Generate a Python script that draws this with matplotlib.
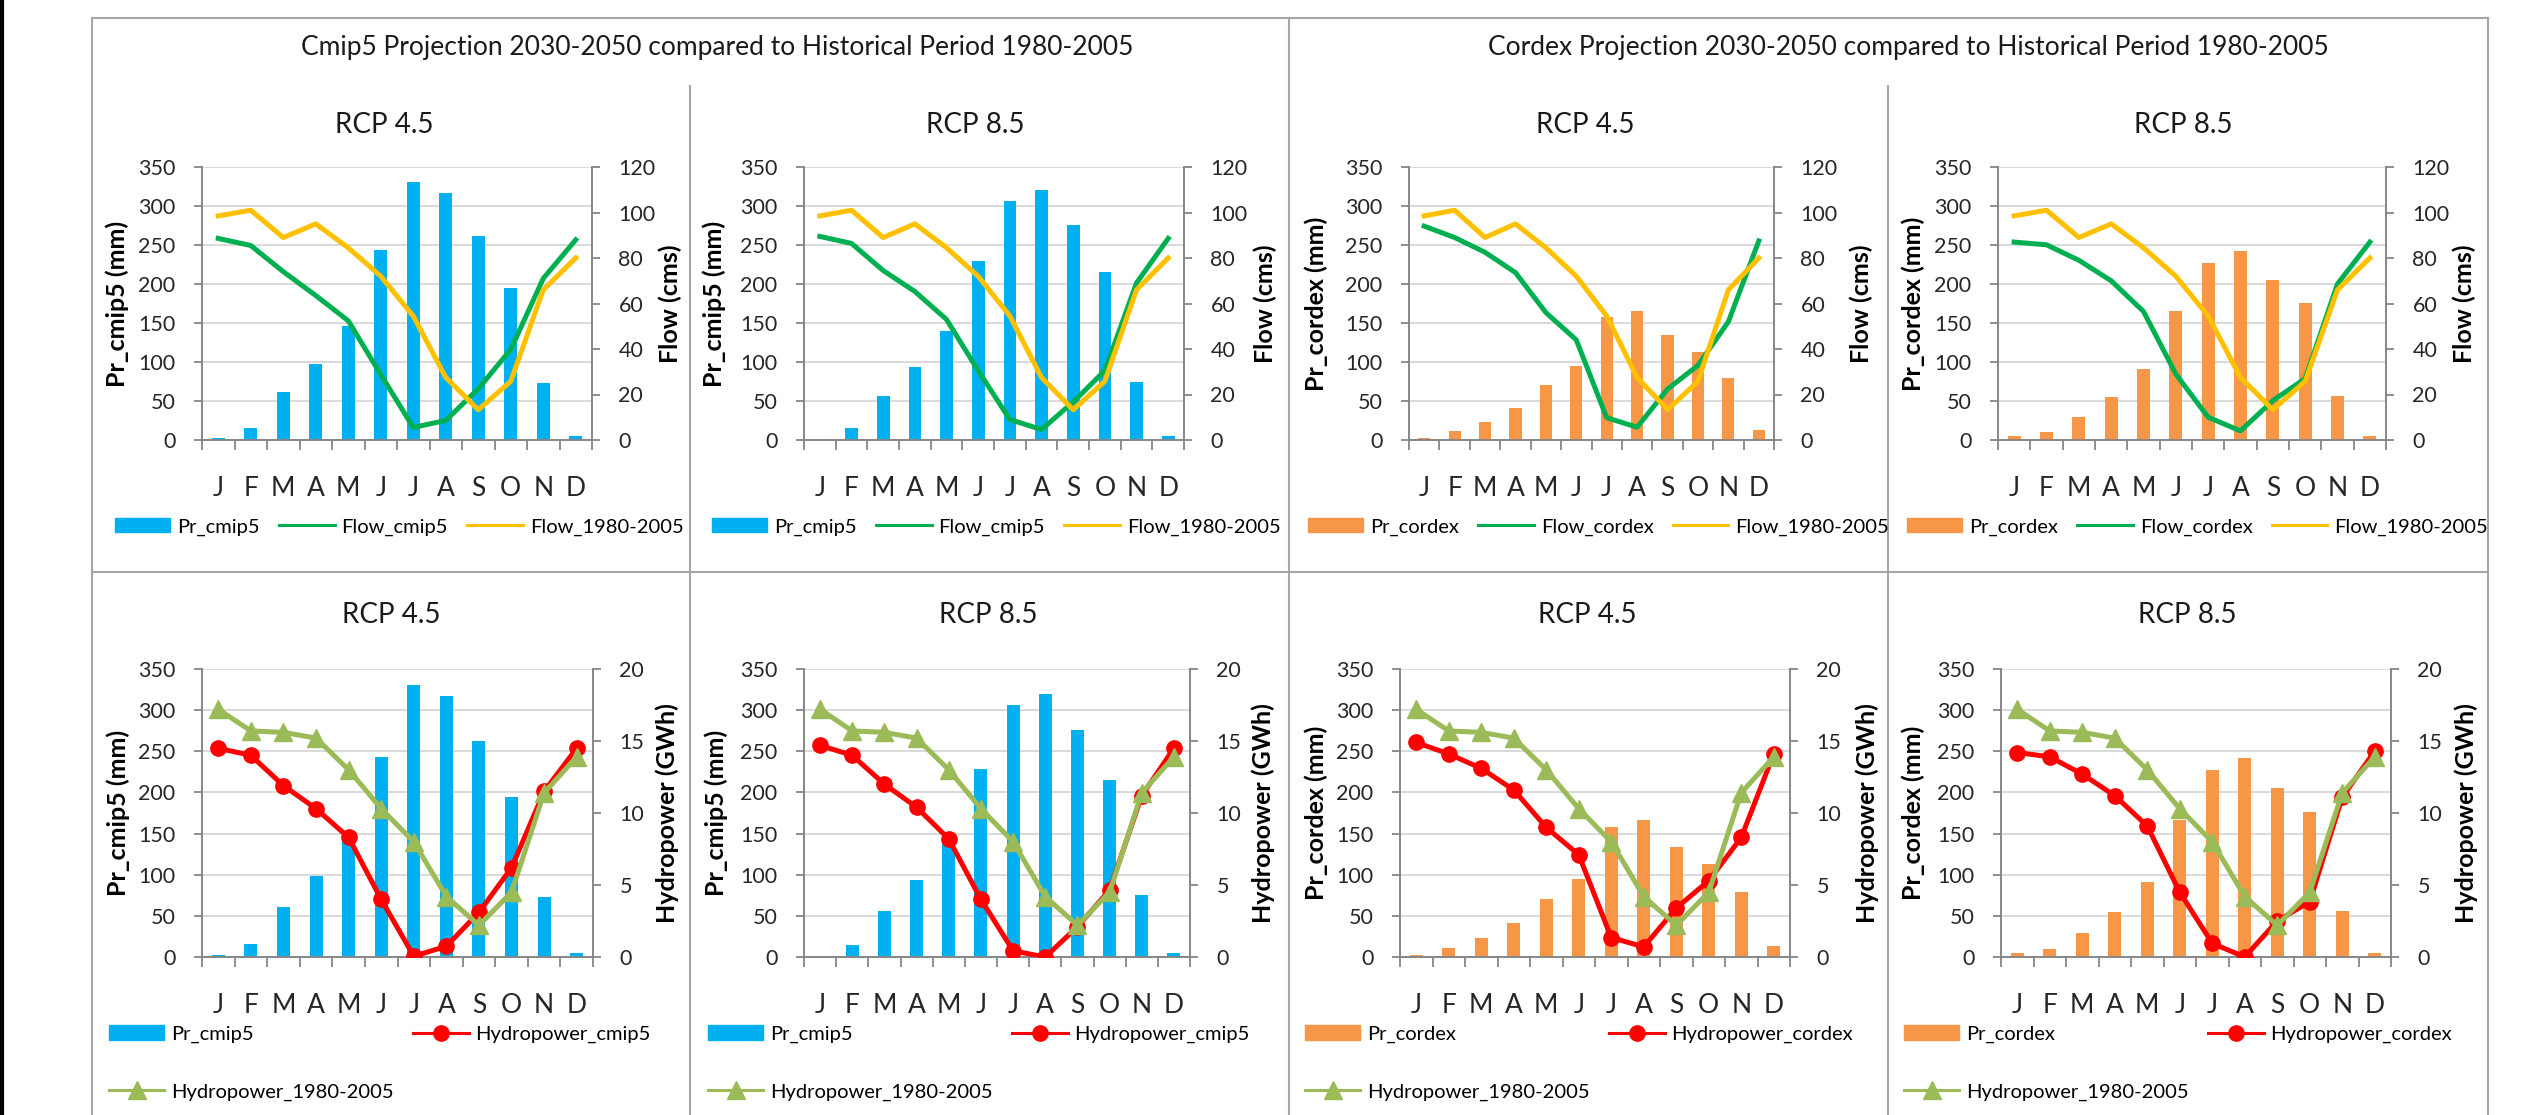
import numpy as np
import matplotlib
matplotlib.use("Agg")
import matplotlib.pyplot as plt
from matplotlib.lines import Line2D
from matplotlib.patches import Rectangle

plt.rcParams['font.family'] = ['Lato', 'DejaVu Sans']

W, H = 2536, 1115

months = ['J', 'F', 'M', 'A', 'M', 'J', 'J', 'A', 'S', 'O', 'N', 'D']

# precipitation (mm)
pr_cmip5_45 = [3, 16, 61, 98, 146, 243, 331, 317, 262, 195, 73, 5]
pr_cmip5_85 = [0, 15, 56, 93, 140, 229, 306, 320, 276, 215, 75, 5]
pr_cordex_45 = [3, 11, 23, 41, 71, 95, 158, 166, 134, 113, 79, 13]
pr_cordex_85 = [5, 10, 29, 55, 91, 166, 227, 242, 205, 176, 56, 5]

# flow (cms)
flow_hist = [98.5, 101, 89, 95, 84.5, 72, 54.5, 27.5, 13.3, 25.8, 66, 80]
flow_cmip5_45 = [88.6, 85.5, 74, 63.5, 52.4, 28.8, 5.5, 8.6, 22.5, 39.8, 71, 88]
flow_cmip5_85 = [89.5, 86.4, 74.5, 65.3, 53, 30.5, 9, 4.6, 16.7, 30.5, 69, 88.6]
flow_cordex_45 = [94, 89, 82.5, 73.6, 56, 44, 9.8, 5.6, 22.4, 32.8, 52, 87.5]
flow_cordex_85 = [87, 85.8, 79, 70, 56.5, 29, 10, 4, 17.3, 27, 68.6, 87]

# hydropower (GWh)
hydro_hist = [17.2, 15.7, 15.6, 15.2, 13.0, 10.3, 8.0, 4.2, 2.2, 4.5, 11.4, 13.9]
hydro_cmip5_45 = [14.5, 14.0, 11.9, 10.3, 8.3, 4.0, 0.05, 0.75, 3.1, 6.2, 11.5, 14.5]
hydro_cmip5_85 = [14.7, 14.0, 12.0, 10.4, 8.2, 4.0, 0.43, 0.0, 2.1, 4.65, 11.2, 14.5]
hydro_cordex_45 = [14.9, 14.1, 13.1, 11.6, 9.0, 7.1, 1.35, 0.7, 3.4, 5.3, 8.3, 14.1]
hydro_cordex_85 = [14.2, 13.9, 12.7, 11.2, 9.1, 4.5, 0.95, 0.0, 2.5, 3.85, 11.1, 14.3]

BLUE = '#00B0F0'
ORANGE = '#F79646'
GREEN = '#00B050'
YELLOW = '#FFC000'
RED = '#FF0000'
OLIVE = '#9BBB59'
AXC = '#868686'
FRAME = '#A6A6A6'

fig = plt.figure(figsize=(W / 100, H / 100), dpi=100)


def fx(x):
    return x / W


def fy(y):
    return 1 - y / H


def panel(xr, yr, pr, bar_color, bar_name, lines, rmax, rstep,
          lab_l, lab_r, lab_x, title, title_xy, leg_xy, ncol):
    x0, x1 = xr
    top, bot = yr
    ax = fig.add_axes([fx(x0), fy(bot), (x1 - x0) / W, (bot - top) / H])
    x = np.arange(12)
    ax.bar(x, pr, width=0.4, color=bar_color, zorder=2)
    ax.set_xlim(-0.5, 11.5)
    ax.set_ylim(0, 350)
    ax.set_yticks(range(0, 351, 50))
    ax.grid(axis='y', color='#D9D9D9', lw=1.4, zorder=0)
    ax.set_axisbelow(True)
    ax.set_xticks(np.arange(-0.5, 12, 1))
    ax.set_xticklabels([])
    ax.tick_params(axis='x', length=7, width=1.3, color=AXC)
    ax.tick_params(axis='y', length=6, width=1.3, color=AXC,
                   labelsize=15.5, pad=13, labelcolor='#262626')
    for i, m in enumerate(months):
        ax.annotate(m, xy=(i, 0), xycoords=('data', 'axes fraction'),
                    xytext=(0, -35), textcoords='offset points',
                    ha='center', va='center', fontsize=19, color='#262626')
    ax.spines['top'].set_visible(False)
    ax.spines['right'].set_visible(False)
    for s in ('left', 'bottom'):
        ax.spines[s].set_color(AXC)
        ax.spines[s].set_linewidth(1.4)

    ax2 = ax.twinx()
    ax2.set_ylim(0, rmax)
    ax2.set_yticks(np.arange(0, rmax + 0.1, rstep))
    ax2.tick_params(axis='y', length=6, width=1.3, color=AXC,
                    labelsize=15.5, pad=13, labelcolor='#262626')
    for s in ('top', 'left', 'bottom'):
        ax2.spines[s].set_visible(False)
    ax2.spines['right'].set_color(AXC)
    ax2.spines['right'].set_linewidth(1.4)

    handles = [Rectangle((0, 0), 1, 1, color=bar_color)]
    labels = [bar_name]
    for vals, color, name, marker, ms in lines:
        ax2.plot(x, vals, color=color, lw=3.6, marker=marker, ms=ms,
                 solid_joinstyle='round', zorder=3)
        handles.append(Line2D([], [], color=color, lw=2.2, marker=marker,
                              ms=ms))
        labels.append(name)

    ymid = (top + bot) / 2
    fig.text(fx(lab_x[0]), fy(ymid), lab_l, rotation=90, ha='center',
             va='center', fontsize=18, fontweight='bold')
    fig.text(fx(lab_x[1]), fy(ymid), lab_r, rotation=90, ha='center',
             va='center', fontsize=18, fontweight='bold')
    fig.text(fx(title_xy[0]), fy(title_xy[1]), title, ha='center',
             va='center', fontsize=20, color='#1a1a1a')

    spacing = 1.1
    if ncol == 2:
        # bar and historical line in first column, projection in second
        handles = [handles[0], handles[2], handles[1]]
        labels = [labels[0], labels[2], labels[1]]
        spacing = 2.0
    fig.legend(handles, labels, loc='center left',
               bbox_to_anchor=(fx(leg_xy[0]), fy(leg_xy[1])), ncol=ncol,
               frameon=False, fontsize=14.5, handlelength=2.75,
               handletextpad=0.35, columnspacing=0.95, borderpad=0,
               borderaxespad=0, labelspacing=spacing, numpoints=1)


TOP = (167, 440)
BOT = (669, 957)

# top row: precipitation and flow
panel((202, 592), TOP, pr_cmip5_45, BLUE, 'Pr_cmip5',
      [(flow_cmip5_45, GREEN, 'Flow_cmip5', None, 0),
       (flow_hist, YELLOW, 'Flow_1980-2005', None, 0)],
      120, 20, 'Pr_cmip5 (mm)', 'Flow (cms)', (117, 670),
      'RCP 4.5', (384, 125), (115, 527), 3)
panel((804, 1184), TOP, pr_cmip5_85, BLUE, 'Pr_cmip5',
      [(flow_cmip5_85, GREEN, 'Flow_cmip5', None, 0),
       (flow_hist, YELLOW, 'Flow_1980-2005', None, 0)],
      120, 20, 'Pr_cmip5 (mm)', 'Flow (cms)', (714, 1265),
      'RCP 8.5', (975, 125), (712, 527), 3)
panel((1409, 1774), TOP, pr_cordex_45, ORANGE, 'Pr_cordex',
      [(flow_cordex_45, GREEN, 'Flow_cordex', None, 0),
       (flow_hist, YELLOW, 'Flow_1980-2005', None, 0)],
      120, 20, 'Pr_cordex (mm)', 'Flow (cms)', (1316, 1861),
      'RCP 4.5', (1585, 125), (1308, 527), 3)
panel((1998, 2386), TOP, pr_cordex_85, ORANGE, 'Pr_cordex',
      [(flow_cordex_85, GREEN, 'Flow_cordex', None, 0),
       (flow_hist, YELLOW, 'Flow_1980-2005', None, 0)],
      120, 20, 'Pr_cordex (mm)', 'Flow (cms)', (1913, 2464),
      'RCP 8.5', (2183, 125), (1907, 527), 3)

# bottom row: precipitation and hydropower
panel((202, 593), BOT, pr_cmip5_45, BLUE, 'Pr_cmip5',
      [(hydro_cmip5_45, RED, 'Hydropower_cmip5', 'o', 11),
       (hydro_hist, OLIVE, 'Hydropower_1980-2005', '^', 13)],
      20, 5, 'Pr_cmip5 (mm)', 'Hydropower (GWh)', (118, 667),
      'RCP 4.5', (391, 615), (109, 1063), 2)
panel((804, 1190), BOT, pr_cmip5_85, BLUE, 'Pr_cmip5',
      [(hydro_cmip5_85, RED, 'Hydropower_cmip5', 'o', 11),
       (hydro_hist, OLIVE, 'Hydropower_1980-2005', '^', 13)],
      20, 5, 'Pr_cmip5 (mm)', 'Hydropower (GWh)', (716, 1263),
      'RCP 8.5', (988, 615), (708, 1063), 2)
panel((1400, 1790), BOT, pr_cordex_45, ORANGE, 'Pr_cordex',
      [(hydro_cordex_45, RED, 'Hydropower_cordex', 'o', 11),
       (hydro_hist, OLIVE, 'Hydropower_1980-2005', '^', 13)],
      20, 5, 'Pr_cordex (mm)', 'Hydropower (GWh)', (1316, 1867),
      'RCP 4.5', (1587, 615), (1305, 1063), 2)
panel((2001, 2391), BOT, pr_cordex_85, ORANGE, 'Pr_cordex',
      [(hydro_cordex_85, RED, 'Hydropower_cordex', 'o', 11),
       (hydro_hist, OLIVE, 'Hydropower_1980-2005', '^', 13)],
      20, 5, 'Pr_cordex (mm)', 'Hydropower (GWh)', (1913, 2466),
      'RCP 8.5', (2187, 615), (1904, 1063), 2)

# group titles
fig.text(fx(717), fy(48),
         'Cmip5 Projection 2030-2050 compared to Historical Period 1980-2005',
         ha='center', va='center', fontsize=19, color='#1a1a1a')
fig.text(fx(1908), fy(48),
         'Cordex Projection 2030-2050 compared to Historical Period 1980-2005',
         ha='center', va='center', fontsize=19, color='#1a1a1a')

# frame lines
frame = [((92, 18), (2488, 18)), ((92, 18), (92, H)), ((2488, 18), (2488, H)),
         ((92, 572), (2488, 572)), ((1289, 18), (1289, H)),
         ((690, 86), (690, H)), ((1888, 86), (1888, H))]
for (xa, ya), (xb, yb) in frame:
    fig.add_artist(Line2D([fx(xa), fx(xb)], [fy(ya), fy(yb)],
                          color=FRAME, lw=1.5))
fig.add_artist(Line2D([fx(2), fx(2)], [0, 1], color='black', lw=3))

fig.savefig('out.png', dpi=100)
